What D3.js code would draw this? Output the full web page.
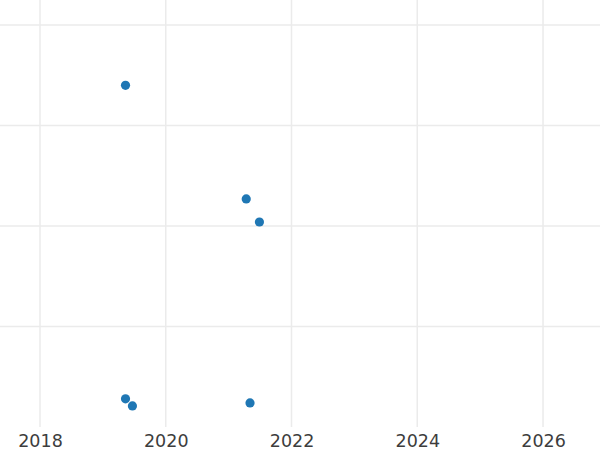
<!DOCTYPE html>
<html><head><meta charset="utf-8">
<script src="https://cdn.jsdelivr.net/npm/d3@7"></script>
<style>body{margin:0;background:#fff}svg{display:block}</style>
</head><body><svg id="c" width="600" height="450"></svg>
<script>
const xValues = [2019.36, 2021.28, 2021.49, 2019.36, 2019.47, 2021.34];
const yValues = [3.40, 2.27, 2.04, 0.28, 0.21, 0.24];
const xTicks = [2018, 2020, 2022, 2024, 2026];
const yGrid = [1, 2, 3, 4];

const W = 600, H = 450;
const plot = {left: 0, right: 600, top: 0, bottom: 427};
const x = d3.scaleLinear().domain([2017.364, 2026.906]).range([plot.left, plot.right]);
const y = d3.scaleLinear().domain([0, 4.249]).range([plot.bottom, plot.top]);
const svg = d3.select("#c");

svg.append("g").selectAll("line").data(yGrid).join("line")
  .attr("x1", plot.left).attr("x2", plot.right)
  .attr("y1", d => y(d)).attr("y2", d => y(d))
  .attr("stroke", "#ebebeb").attr("stroke-width", 1.5);

svg.append("g").selectAll("line").data(xTicks).join("line")
  .attr("y1", plot.top).attr("y2", plot.bottom)
  .attr("x1", d => x(d)).attr("x2", d => x(d))
  .attr("stroke", "#ebebeb").attr("stroke-width", 1.5);

const xAxis = d3.axisBottom(x).tickValues(xTicks).tickFormat(d3.format("d")).tickSize(0).tickPadding(8);
const ax = svg.append("g").attr("transform", `translate(0,${plot.bottom})`).call(xAxis);
ax.select(".domain").remove();
ax.selectAll("text").attr("font-family", "DejaVu Sans").attr("font-size", 17.5).attr("fill", "#3d3d3d");

svg.append("g").selectAll("circle").data(xValues.map((v, i) => [v, yValues[i]])).join("circle")
  .attr("cx", d => x(d[0])).attr("cy", d => y(d[1])).attr("r", 4.6)
  .attr("fill", "#1f77b4");
</script></body></html>
